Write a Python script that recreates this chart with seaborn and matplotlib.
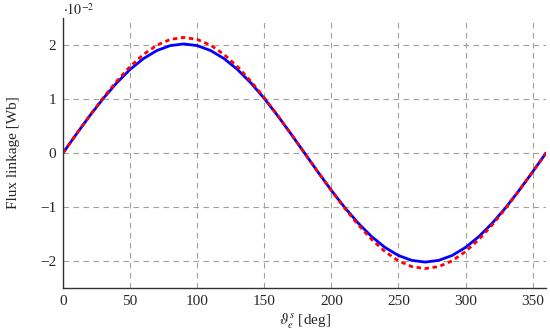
import numpy as np
import pandas as pd
import matplotlib
matplotlib.use("Agg")
import matplotlib.pyplot as plt
import seaborn as sns

# angle in electrical degrees, flux linkage in units of 1e-2 Wb
angle = list(range(0, 361, 10))
quarter_meas = [0, 0.351, 0.691, 1.010, 1.298, 1.547, 1.749, 1.898, 1.989, 2.020]
quarter_model = [0, 0.351, 0.694, 1.024, 1.329, 1.600, 1.826, 1.997, 2.104, 2.140]


def full_wave(q):
    half = q + q[-2::-1]
    return half + [-v for v in half[1:]]


flux_meas = full_wave(quarter_meas)
flux_model = full_wave(quarter_model)

df = pd.DataFrame({"angle": angle, "meas": flux_meas, "model": flux_model})

sns.set_style("ticks")
plt.rcParams["font.family"] = ["Liberation Serif", "DejaVu Serif"]
plt.rcParams["mathtext.fontset"] = "stix"

fig = plt.figure(figsize=(5.5, 3.3), dpi=100)
ax = fig.add_axes([63 / 550, 1 - 288 / 330, 483 / 550, 270 / 330])

sns.lineplot(data=df, x="angle", y="meas", color="#0000ff", linewidth=2.0, ax=ax)
sns.lineplot(data=df, x="angle", y="model", color="#ff0000", linewidth=2.0,
             linestyle=(0, (1.6, 1.3)), ax=ax)

ax.set_xlim(0, 360)
ax.set_ylim(-2.5, 2.5)
ax.set_xticks(range(0, 360, 50))
ax.set_yticks([-2, -1, 0, 1, 2])
ax.grid(True, color="#a0a0a0", linestyle=(0, (5, 4)), linewidth=0.8)
ax.tick_params(labelsize=11, length=0, pad=5)
sns.despine(ax=ax)
for s in ["left", "bottom"]:
    ax.spines[s].set_linewidth(1.0)
    ax.spines[s].set_color("#333333")

ax.set_xlabel(r"$\vartheta_e^s$ [deg]", fontsize=11, labelpad=3)
ax.set_ylabel("Flux linkage [Wb]", fontsize=11, labelpad=14)
ax.text(0.0, 1.012, r"$\cdot 10^{-2}$", transform=ax.transAxes, fontsize=10,
        ha="left", va="baseline")

fig.savefig("out.png", dpi=100)
